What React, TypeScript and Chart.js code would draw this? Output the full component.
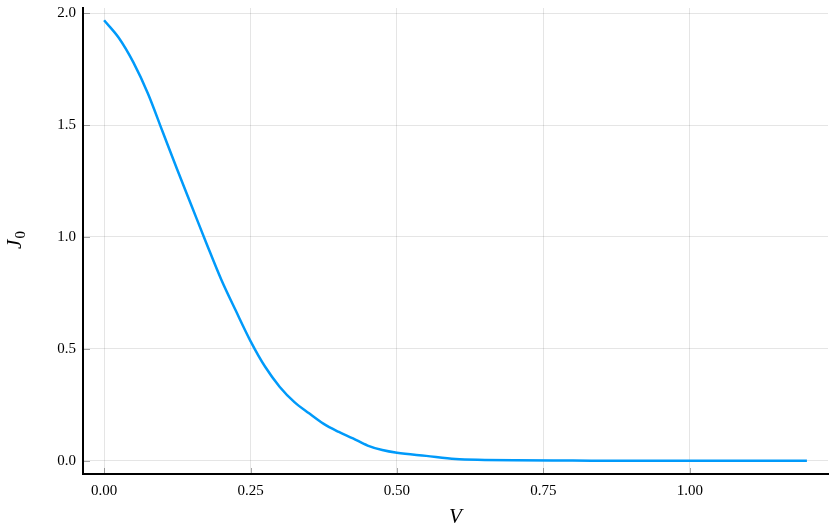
import React, { useEffect, useRef } from "react";
import { Chart, registerables } from "chart.js";

Chart.register(...registerables);

const vValues = [0, 0.025, 0.05, 0.075, 0.1, 0.125, 0.15, 0.175, 0.2, 0.225, 0.25, 0.275, 0.3, 0.325, 0.35, 0.375, 0.4, 0.425, 0.45, 0.475, 0.5, 0.55, 0.6, 0.65, 0.7, 0.8, 0.9, 1.0, 1.1, 1.2];
const j0Values = [1.968, 1.89, 1.78, 1.64, 1.47, 1.3, 1.135, 0.97, 0.81, 0.67, 0.535, 0.42, 0.33, 0.262, 0.212, 0.165, 0.13, 0.1, 0.068, 0.048, 0.036, 0.022, 0.008, 0.004, 0.002, 0.001, 0.0, 0.0, 0.0, 0.0];
const xTicks = [0, 0.25, 0.5, 0.75, 1.0];
const yTicks = [0, 0.5, 1.0, 1.5, 2.0];
const xTitle = "V";
const yTitleMain = "J";
const yTitleSub = "0";

const FONT = "'Liberation Serif', 'DejaVu Serif', serif";

const decorPlugin = {
  id: "decor",
  afterDraw(chart: any) {
    const ctx = chart.ctx;
    const area = chart.chartArea;
    const xs = chart.scales.x;
    const ys = chart.scales.y;
    ctx.save();
    ctx.strokeStyle = "rgba(0,0,0,0.35)";
    ctx.lineWidth = 1;
    ctx.beginPath();
    for (const t of xTicks) {
      const px = Math.round(xs.getPixelForValue(t)) + 0.5;
      ctx.moveTo(px, area.bottom);
      ctx.lineTo(px, area.bottom - 6);
    }
    for (const t of yTicks) {
      const py = Math.round(ys.getPixelForValue(t)) + 0.5;
      ctx.moveTo(area.left, py);
      ctx.lineTo(area.left + 7, py);
    }
    ctx.stroke();
    ctx.fillStyle = "#000";
    ctx.font = `italic 21px ${FONT}`;
    ctx.textAlign = "center";
    ctx.textBaseline = "middle";
    ctx.fillText(xTitle, (area.left + area.right) / 2, 517);
    ctx.translate(15, 240);
    ctx.rotate(-Math.PI / 2);
    ctx.font = `italic 21px ${FONT}`;
    const wJ = ctx.measureText(yTitleMain).width;
    ctx.font = `15px ${FONT}`;
    const w0 = ctx.measureText(yTitleSub).width;
    const total = wJ + w0 + 1;
    ctx.textAlign = "left";
    ctx.textBaseline = "alphabetic";
    ctx.font = `italic 21px ${FONT}`;
    ctx.fillText(yTitleMain, -total / 2, 6);
    ctx.font = `15px ${FONT}`;
    ctx.fillText(yTitleSub, -total / 2 + wJ + 1, 10);
    ctx.restore();
  },
};

export default function App() {
  const ref = useRef<HTMLCanvasElement>(null);
  useEffect(() => {
    document.body.style.margin = "0";
    const chart = new Chart(ref.current!, {
      type: "line",
      data: {
        datasets: [
          {
            data: vValues.map((v, i) => ({ x: v, y: j0Values[i] })),
            borderColor: "#009AFA",
            borderWidth: 2.5,
            pointRadius: 0,
            cubicInterpolationMode: "monotone",
            fill: false,
          },
        ],
      },
      options: {
        animation: false,
        responsive: false,
        events: [],
        layout: { padding: { left: 0, top: 8, right: 3, bottom: 0 } },
        plugins: { legend: { display: false }, tooltip: { enabled: false } },
        scales: {
          x: {
            type: "linear",
            min: -0.036,
            max: 1.236,
            afterBuildTicks: (s: any) => {
              s.ticks = xTicks.map((v) => ({ value: v }));
            },
            afterFit: (s: any) => {
              s.height = 58;
              s.paddingLeft = 0;
              s.paddingRight = 0;
            },
            ticks: {
              callback: (v: any) => Number(v).toFixed(2),
              color: "#000",
              font: { family: FONT, size: 15 },
              padding: 8,
              maxRotation: 0,
            },
            grid: { color: "rgba(0,0,0,0.1)", lineWidth: 1, drawTicks: false },
            border: { color: "#000", width: 2 },
          },
          y: {
            type: "linear",
            min: -0.059,
            max: 2.023,
            afterBuildTicks: (s: any) => {
              s.ticks = yTicks.map((v) => ({ value: v }));
            },
            afterFit: (s: any) => {
              s.width = 83;
              s.paddingTop = 0;
              s.paddingBottom = 0;
            },
            ticks: {
              callback: (v: any) => Number(v).toFixed(1),
              color: "#000",
              font: { family: FONT, size: 15 },
              padding: 7,
            },
            grid: { color: "rgba(0,0,0,0.1)", lineWidth: 1, drawTicks: false },
            border: { color: "#000", width: 2 },
          },
        },
      },
      plugins: [decorPlugin],
    });
    return () => chart.destroy();
  }, []);
  return (
    <div style={{ position: "absolute", left: 0, top: 0, width: 831, height: 532 }}>
      <canvas ref={ref} width={831} height={532} style={{ width: 831, height: 532 }} />
    </div>
  );
}
